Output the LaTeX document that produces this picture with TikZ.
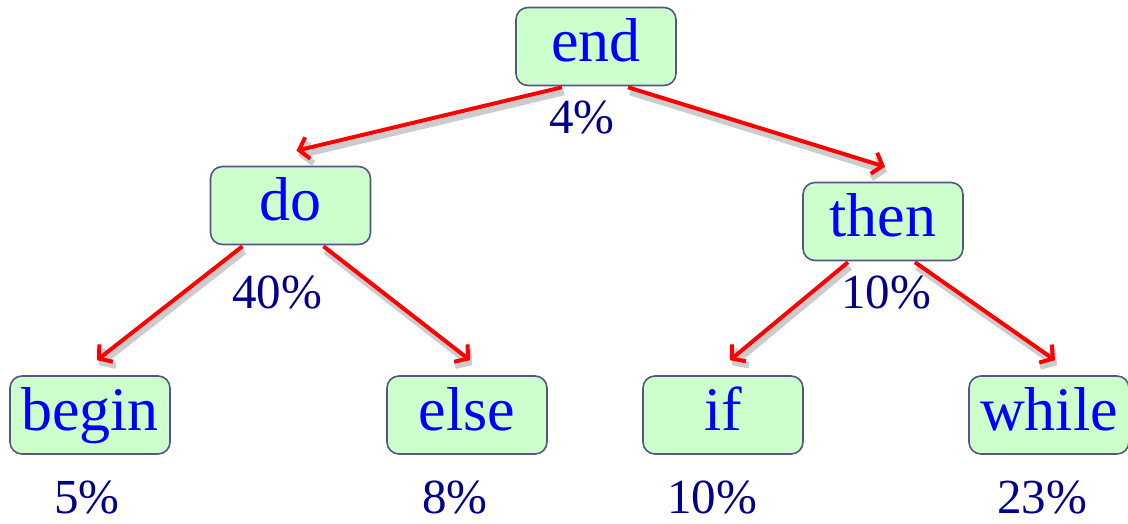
\documentclass[tikz,border=0pt]{standalone}
\usepackage{fontspec}
\setmainfont{Liberation Serif}
\definecolor{boxfill}{RGB}{204, 255, 204}
\definecolor{boxedge}{RGB}{85, 85, 135}
\definecolor{pctblue}{RGB}{0, 0, 140}
\definecolor{linkred}{RGB}{255, 0, 0}
\usetikzlibrary{positioning,arrows.meta,calc}

\begin{document}
\begin{tikzpicture}[x=1pt,y=1pt,
    kw/.style={draw=boxedge, fill=boxfill, rounded corners=12pt, line width=1.6pt,
        minimum width=160pt, minimum height=78pt, inner sep=0pt,
        text height=43pt, text depth=13pt, text=blue, font=\fontsize{62}{62}\selectfont},
    pct/.style={anchor=base, inner sep=0pt, text=pctblue, font=\fontsize{49}{49}\selectfont},
    link/.style={draw=linkred, line width=4pt, -{Straight Barb[length=9pt,width=22pt]},
        preaction={draw=black!20, line width=6pt, transform canvas={shift={(2pt,-5pt)}}}}]
    \useasboundingbox (0,0) rectangle (1128,523);

    % Keywords
    \node[kw] (n-end) at (596,476.5) {end};
    \node[kw] (n-do) at (290.5,317.5) {do};
    \node[kw] (n-then) at (883,301.5) {then};
    \node[kw] (n-begin) at (90,108) {begin};
    \node[kw] (n-else) at (467,108) {else};
    \node[kw] (n-if) at (723,108) {if};
    \node[kw] (n-while) at (1049,108) {while};

    % Percentages
    \node[pct] (p-end) at ($(n-end.south)+(-14,-47)$) {4\%};
    \node[pct] (p-do) at ($(n-do.south)+(-13.5,-63)$) {40\%};
    \node[pct] (p-then) at ($(n-then.south)+(3,-47)$) {10\%};
    \node[pct] (p-begin) at ($(n-begin.south)+(-3,-59)$) {5\%};
    \node[pct] (p-else) at ($(n-else.south)+(-12,-59)$) {8\%};
    \node[pct] (p-if) at ($(n-if.south)+(-11,-59)$) {10\%};
    \node[pct] (p-while) at ($(n-while.south)+(-7,-59)$) {23\%};

    % Links
    \foreach \a/\da/\b/\db in {end/-34/do/6, end/32/then/2, do/-48/begin/7,
        do/33/else/3, then/-35/if/7, then/32/while/6}
        \draw[link] ($(n-\a.south)+(\da,-1)$) -- ($(n-\b.north)+(\db,15)$);
\end{tikzpicture}
\end{document}
